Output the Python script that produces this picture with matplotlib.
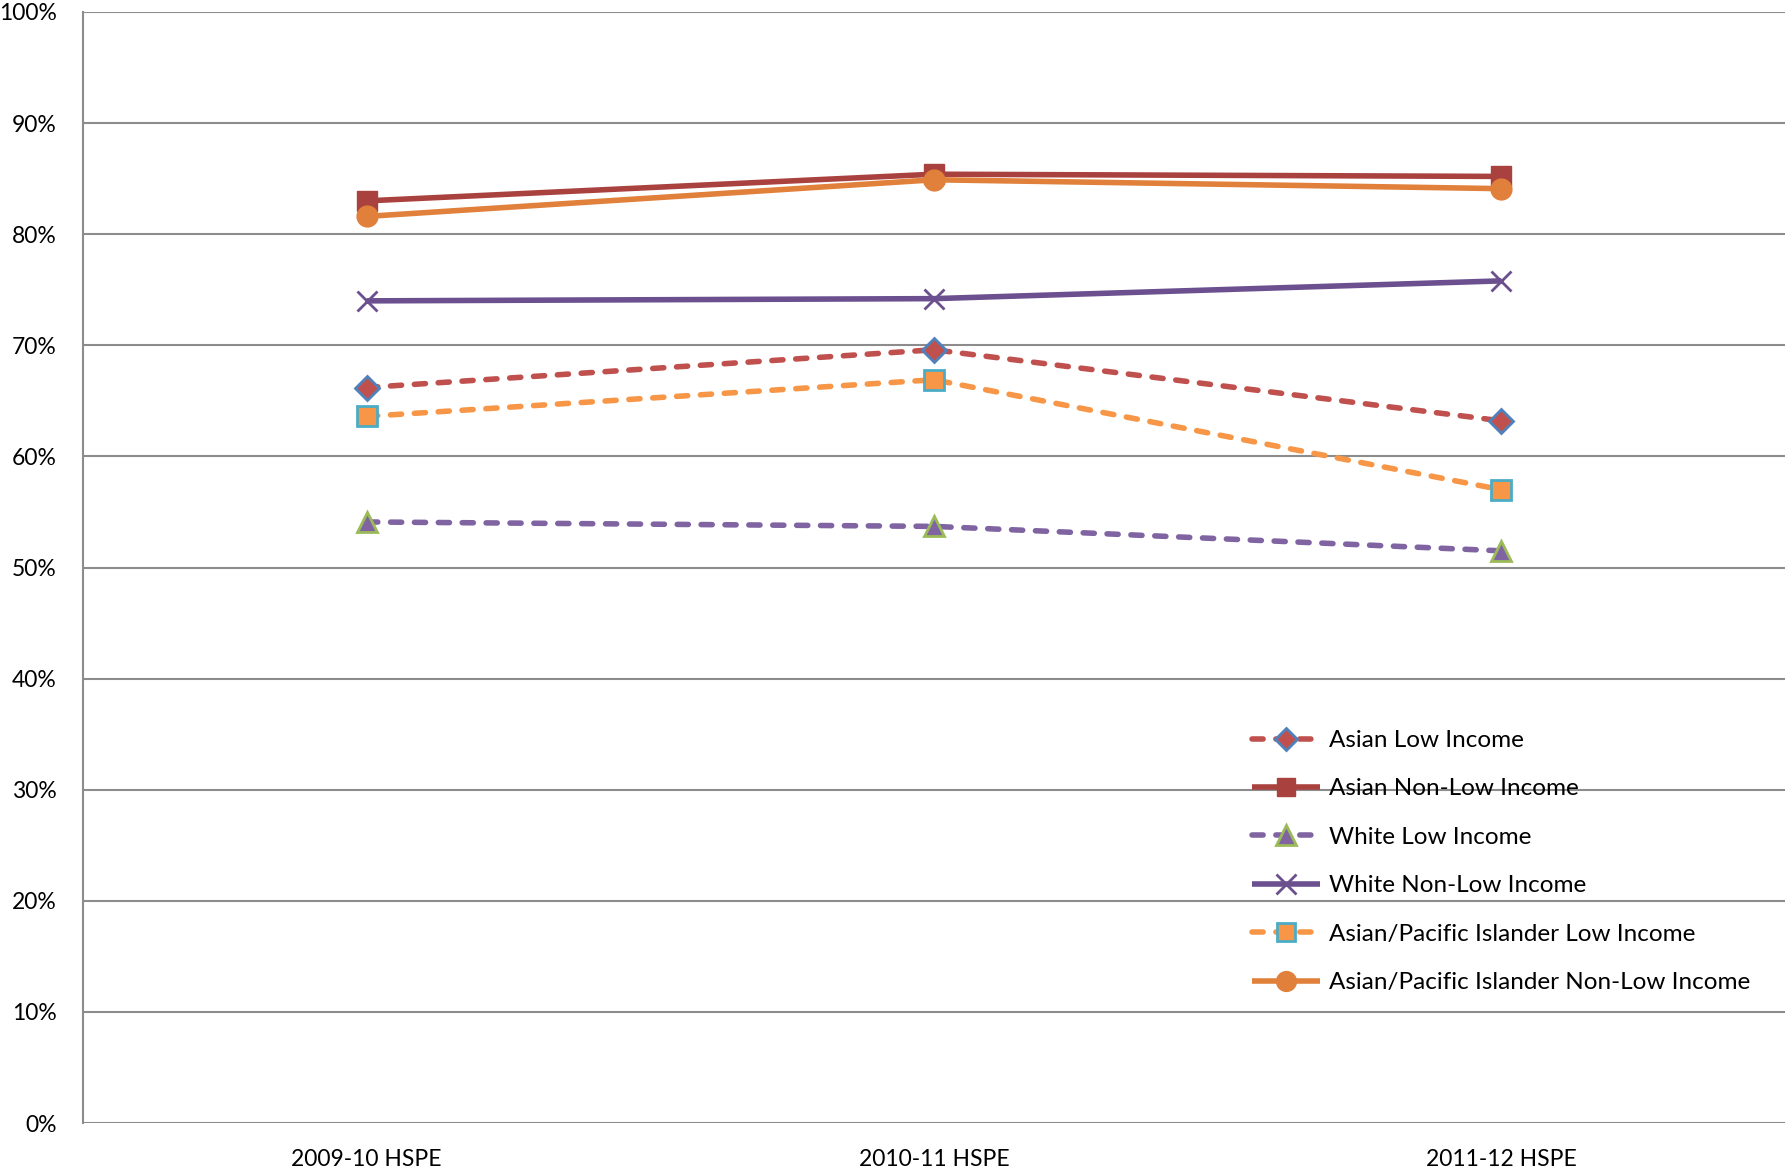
import matplotlib
matplotlib.use("Agg")
import matplotlib.pyplot as plt
from matplotlib.ticker import PercentFormatter

categories = ["2009-10 HSPE", "2010-11 HSPE", "2011-12 HSPE"]
asian_low = [66.2, 69.6, 63.2]
asian_nonlow = [83.0, 85.4, 85.2]
white_low = [54.1, 53.7, 51.5]
white_nonlow = [74.0, 74.2, 75.8]
api_low = [63.6, 66.9, 57.0]
api_nonlow = [81.6, 84.9, 84.1]
yticks = list(range(0, 101, 10))

plt.rcParams['font.family'] = ['Lato', 'DejaVu Sans']

fig = plt.figure(figsize=(17.87, 11.72), dpi=100)
ax = fig.add_axes([83/1787, 1-1123/1172, (1785-83)/1787, (1123-12)/1172])

x = list(range(len(categories)))
lw = 4.0
dash = (0, (2.0, 2.3))
ms = 14

series = [
    (asian_low, "Asian Low Income", dict(color="#C0504D", ls=dash, marker="D", ms=12,
                                         mfc="#C0504D", mec="#4F81BD", mew=2)),
    (asian_nonlow, "Asian Non-Low Income", dict(color="#A9413E", ls="-", marker="s", ms=ms,
                                                mfc="#A9413E", mec="#A9413E", mew=1)),
    (white_low, "White Low Income", dict(color="#8064A2", ls=dash, marker="^", ms=15,
                                         mfc="#8064A2", mec="#9BBB59", mew=2)),
    (white_nonlow, "White Non-Low Income", dict(color="#6B4F8F", ls="-", marker="x", ms=15,
                                                mfc="#6B4F8F", mec="#6B4F8F", mew=2)),
    (api_low, "Asian/Pacific Islander Low Income", dict(color="#F79646", ls=dash, marker="s", ms=ms,
                                                        mfc="#F79646", mec="#4BACC6", mew=2)),
    (api_nonlow, "Asian/Pacific Islander Non-Low Income", dict(color="#E0803A", ls="-", marker="o", ms=15,
                                                               mfc="#E0803A", mec="#E0803A", mew=1)),
]

for vals, label, kw in series:
    ax.plot(x, vals, label=label, lw=lw, dash_capstyle="round", solid_capstyle="butt", **kw)

ax.set_xlim(-0.5, len(categories) - 0.5)
ax.set_ylim(0, 100)
ax.set_yticks(yticks)
ax.yaxis.set_major_formatter(PercentFormatter(decimals=0))
ax.set_xticks(x)
ax.set_xticklabels(categories)
ax.tick_params(axis="both", length=0, labelsize=16.5, colors="black")
ax.tick_params(axis="y", pad=19)
ax.tick_params(axis="x", pad=19)
ax.grid(axis="y", color="#8C8C8C", lw=1.5)
ax.set_axisbelow(True)
for s in ["top", "right", "bottom"]:
    ax.spines[s].set_visible(False)
ax.spines["left"].set_color("#8C8C8C")
ax.spines["left"].set_linewidth(1.5)

leg = ax.legend(loc="upper left", bbox_to_anchor=((1252-83)/1702, 1-(730-12)/1111),
                frameon=False, fontsize=17.5, handlelength=2.8, handletextpad=0.35,
                labelspacing=1.13, borderpad=0, borderaxespad=0, markerscale=0.95)

fig.savefig("out.png", dpi=100)
